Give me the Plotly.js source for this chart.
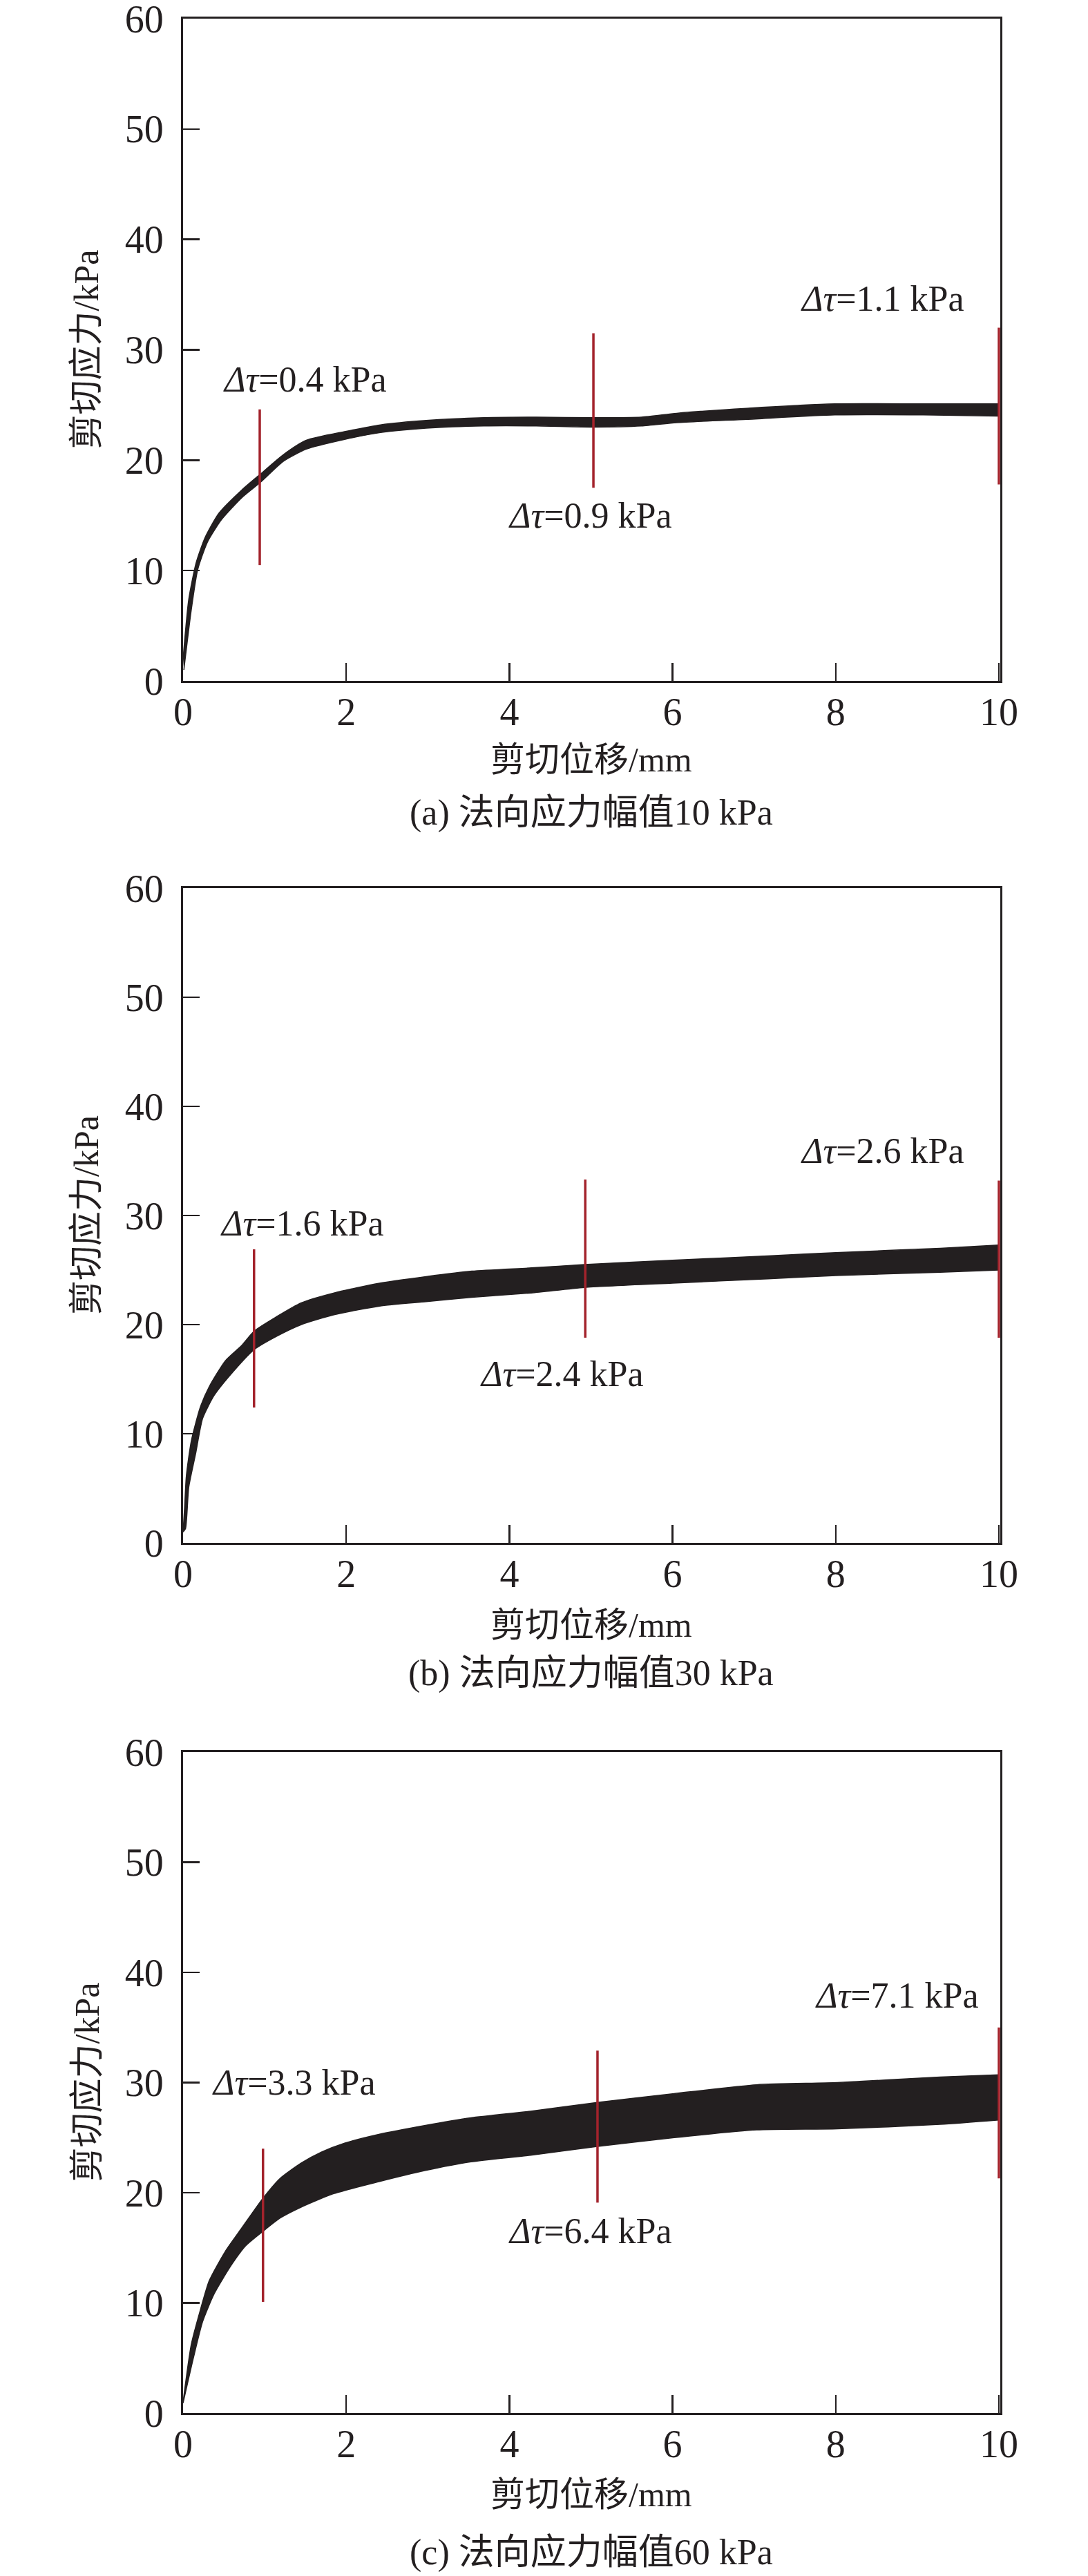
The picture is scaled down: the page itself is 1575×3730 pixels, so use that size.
<!DOCTYPE html>
<html>
<head>
<meta charset="utf-8">
<script src="https://cdn.plot.ly/plotly-3.0.1.min.js"></script>
<style>
  html, body { margin: 0; padding: 0; background: #fff; }
  #chart { width: 1575px; height: 3730px; }
</style>
</head>
<body>
<div id="chart"></div>
<script>
// --- data (shear displacement in mm, shear stress in kPa) ---
// (a) normal stress amplitude 10 kPa
const upperXA = [0.0, 0.07, 0.16, 0.27, 0.44, 0.72, 0.95, 1.23, 1.51, 1.99, 2.42, 2.98, 3.69, 4.33, 5.03, 5.62, 6.05, 6.91, 7.99, 9.07, 10];
const upperYA = [2.0, 7.4, 10.7, 13.0, 15.2, 17.3, 18.75, 20.5, 21.8, 22.6, 23.2, 23.6, 23.85, 23.9, 23.85, 23.9, 24.25, 24.7, 25.1, 25.1, 25.1];
const lowerXA = [0.01, 0.10, 0.18, 0.30, 0.47, 0.72, 0.95, 1.23, 1.51, 1.99, 2.42, 2.98, 3.69, 4.33, 5.03, 5.62, 6.05, 6.91, 7.99, 9.07, 10];
const lowerYA = [1.0, 6.4, 10.1, 12.6, 14.6, 16.6, 18.0, 19.9, 21.0, 21.9, 22.5, 22.9, 23.1, 23.1, 23.0, 23.1, 23.4, 23.7, 24.1, 24.1, 24.0];

// (b) normal stress amplitude 30 kPa
const upperXB = [0.0, 0.02, 0.04, 0.10, 0.21, 0.32, 0.52, 0.72, 0.87, 1.14, 1.45, 1.85, 2.41, 2.98, 3.54, 4.27, 4.92, 6.0, 7.17, 8.0, 9.28, 10];
const upperYB = [1.0, 3.4, 6.1, 9.3, 12.4, 14.3, 16.7, 18.1, 19.4, 20.7, 22.0, 22.9, 23.8, 24.4, 24.9, 25.2, 25.5, 25.9, 26.3, 26.6, 27.0, 27.3];
const lowerXB = [0.0, 0.03, 0.07, 0.155, 0.24, 0.38, 0.58, 0.87, 1.14, 1.45, 1.85, 2.41, 2.98, 3.54, 4.27, 4.92, 6.0, 7.17, 8.0, 9.28, 10];
const lowerYB = [1.0, 1.3, 5.1, 8.2, 11.4, 13.5, 15.4, 17.7, 18.9, 20.0, 20.9, 21.7, 22.1, 22.5, 22.9, 23.4, 23.8, 24.2, 24.5, 24.8, 25.0];

// (c) normal stress amplitude 60 kPa
const upperXC = [0.0, 0.10, 0.21, 0.32, 0.52, 0.72, 0.98, 1.19, 1.45, 1.70, 1.98, 2.40, 2.96, 3.53, 4.26, 5.08, 6.02, 7.03, 8.02, 9.28, 10];
const upperYC = [1.0, 6.2, 9.3, 12.0, 14.7, 16.8, 19.5, 21.3, 22.7, 23.7, 24.5, 25.3, 26.1, 26.8, 27.4, 28.2, 29.0, 29.8, 30.0, 30.5, 30.7];
const lowerXC = [0.0, 0.13, 0.24, 0.38, 0.58, 0.77, 0.98, 1.19, 1.45, 1.84, 2.40, 2.96, 3.53, 4.26, 5.08, 6.02, 7.03, 8.02, 9.28, 10];
const lowerYC = [0.9, 5.1, 8.3, 10.8, 13.3, 15.2, 16.5, 17.7, 18.7, 19.9, 21.0, 22.0, 22.8, 23.4, 24.2, 25.0, 25.7, 25.8, 26.2, 26.6];

// red markers: position, bottom and top of each Δτ bar
const markXA = [0.94, 5.03, 10], markLoA = [10.5, 17.5, 17.8], markHiA = [24.6, 31.5, 32.0];
const markXB = [0.87, 4.93, 10], markLoB = [12.4, 18.8, 18.8], markHiB = [26.9, 33.3, 33.2];
const markXC = [0.98, 5.08, 10], markLoC = [10.1, 19.1, 21.3], markHiC = [24.0, 32.9, 35.0];

// Δτ labels
const labelTxtA = ['0.4', '0.9', '1.1'], labelXA = [0.47, 3.97, 7.55], labelYA = [27.3, 15.0, 34.6];
const labelTxtB = ['1.6', '2.4', '2.6'], labelXB = [0.44, 3.62, 7.55], labelYB = [29.3, 15.5, 35.9];
const labelTxtC = ['3.3', '6.4', '7.1'], labelXC = [0.34, 3.97, 7.73], labelYC = [30.0, 16.5, 37.9];

const captions = ['(a) 法向应力幅值10 kPa', '(b) 法向应力幅值30 kPa', '(c) 法向应力幅值60 kPa'];
const xTitle = '剪切位移/mm';
const yTitle = '剪切应力/kPa';
const xTicks = [0, 2, 4, 6, 8, 10];
const yTicks = [0, 10, 20, 30, 40, 50, 60];

// --- page geometry (px in the 1575 x 3730 page) ---
const W = 1575, H = 3730;
const plotLeft = 265, plotW = 1181;
const panelTop = [27, 1286, 2537];
const panelBot = [986, 2234, 3494];
const xLabelY = [1100, 2353, 3612];
const captionY = [1177, 2423, 3696];

const FONT = '"Liberation Serif", "Times New Roman", "Noto Sans CJK SC", serif';
const INK = '#231f20';
const RED = '#a3232c';
const XMAX = 10.02;   // tiny overhang so the bar at x=10 is not clipped

const panels = [
  { ux: upperXA, uy: upperYA, lx: lowerXA, ly: lowerYA, mx: markXA, lo: markLoA, hi: markHiA, lt: labelTxtA, lxs: labelXA, lys: labelYA },
  { ux: upperXB, uy: upperYB, lx: lowerXB, ly: lowerYB, mx: markXB, lo: markLoB, hi: markHiB, lt: labelTxtB, lxs: labelXB, lys: labelYB },
  { ux: upperXC, uy: upperYC, lx: lowerXC, ly: lowerYC, mx: markXC, lo: markLoC, hi: markHiC, lt: labelTxtC, lxs: labelXC, lys: labelYC }
];

const traces = [];
const annotations = [];
const layout = {
  width: W, height: H,
  margin: { l: 0, r: 0, t: 0, b: 0 },
  paper_bgcolor: '#fff', plot_bgcolor: '#fff',
  showlegend: false,
  font: { family: FONT, color: INK }
};

panels.forEach((p, i) => {
  const n = i === 0 ? '' : String(i + 1);
  const xa = 'x' + n, ya = 'y' + n;

  // band of the cyclic shear stress: lower edge then filled upper edge
  traces.push({
    x: p.lx, y: p.ly, xaxis: xa, yaxis: ya, type: 'scatter', mode: 'lines',
    line: { color: INK, width: 1.5, shape: 'spline', smoothing: 0.6 }, hoverinfo: 'skip'
  });
  traces.push({
    x: p.ux, y: p.uy, xaxis: xa, yaxis: ya, type: 'scatter', mode: 'lines',
    fill: 'tonexty', fillcolor: INK,
    line: { color: INK, width: 1.5, shape: 'spline', smoothing: 0.6 }, hoverinfo: 'skip'
  });

  // red Δτ bars
  const bx = [], by = [];
  p.mx.forEach((x, k) => { bx.push(x, x, null); by.push(p.lo[k], p.hi[k], null); });
  traces.push({
    x: bx, y: by, xaxis: xa, yaxis: ya, type: 'scatter', mode: 'lines',
    line: { color: RED, width: 3.5 }, hoverinfo: 'skip'
  });

  p.lt.forEach((t, k) => {
    annotations.push({
      xref: xa, yref: ya, x: p.lxs[k], y: p.lys[k],
      text: '<i>Δτ</i>=' + t + ' kPa', showarrow: false,
      xanchor: 'left', yanchor: 'middle',
      font: { family: FONT, size: 52, color: INK }
    });
  });

  const top = 1 - panelTop[i] / H, bot = 1 - panelBot[i] / H;
  layout['xaxis' + n] = {
    domain: [plotLeft / W, (plotLeft + plotW * XMAX / 10) / W],
    range: [0, XMAX], anchor: ya,
    tickvals: xTicks, ticktext: xTicks.map(String),
    ticks: 'inside', ticklen: 26, tickwidth: 2.5, tickcolor: INK,
    showline: true, linewidth: 3, linecolor: INK, mirror: true,
    showgrid: false, zeroline: false, layer: 'below traces',
    ticklabelstandoff: -6, ticklabeloverflow: 'allow',
    tickfont: { family: FONT, size: 56, color: INK }
  };
  layout['yaxis' + n] = {
    domain: [bot, top], range: [0, 60], anchor: xa,
    tickvals: yTicks, ticktext: yTicks.map(String),
    ticks: 'inside', ticklen: 24, tickwidth: 2.5, tickcolor: INK,
    showline: true, linewidth: 3, linecolor: INK, mirror: true,
    showgrid: false, zeroline: false, layer: 'below traces',
    ticklabelstandoff: 14, ticklabeloverflow: 'allow',
    tickfont: { family: FONT, size: 56, color: INK }
  };

  const cx = (plotLeft + plotW / 2) / W;
  annotations.push({
    xref: 'paper', yref: 'paper', x: cx, y: 1 - xLabelY[i] / H,
    text: xTitle, showarrow: false, xanchor: 'center', yanchor: 'middle',
    font: { family: FONT, size: 50, color: INK }
  });
  annotations.push({
    xref: 'paper', yref: 'paper', x: cx, y: 1 - captionY[i] / H,
    text: captions[i], showarrow: false, xanchor: 'center', yanchor: 'middle',
    font: { family: FONT, size: 52, color: INK }
  });
  annotations.push({
    xref: 'paper', yref: 'paper', x: 125 / W, y: (top + bot) / 2,
    text: yTitle, showarrow: false, textangle: -90, xanchor: 'center', yanchor: 'middle',
    font: { family: FONT, size: 50, color: INK }
  });
});

layout.annotations = annotations;

Plotly.newPlot('chart', traces, layout, { staticPlot: true, displayModeBar: false });
</script>
</body>
</html>
